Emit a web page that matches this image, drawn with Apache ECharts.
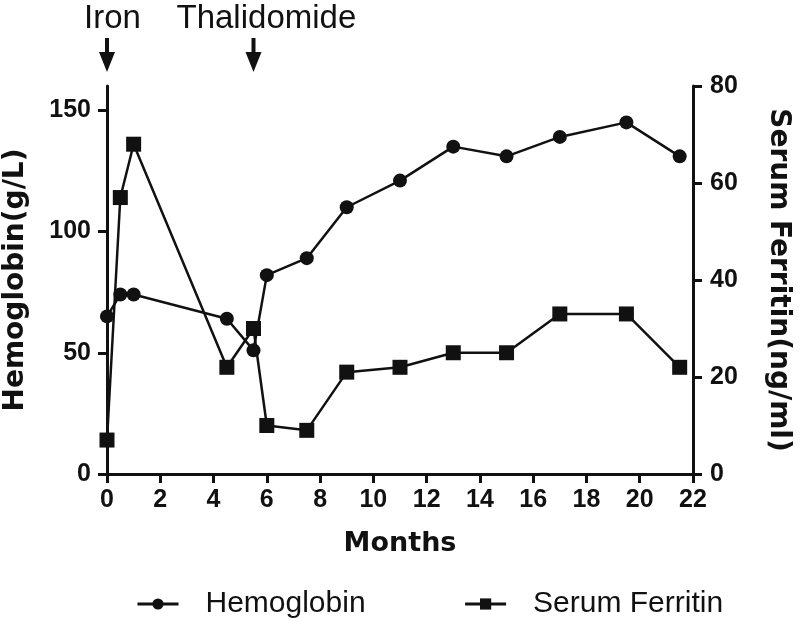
<!DOCTYPE html>
<html>
<head>
<meta charset="utf-8">
<script src="https://cdn.jsdelivr.net/npm/echarts@6/dist/echarts.min.js"></script>
<style>
  html, body { margin: 0; padding: 0; background: #fff; }
  #chart { width: 800px; height: 622px; }
</style>
</head>
<body>
<div id="chart"></div>
<script>
// data
const months = [0, 0.5, 1, 4.5, 5.5, 6, 7.5, 9, 11, 13, 15, 17, 19.5, 21.5];
const hemoglobin = [65, 74, 74, 64, 51, 82, 89, 110, 121, 135, 131, 139, 145, 131];
const ferritin = [7, 57, 68, 22, 30, 10, 9, 21, 22, 25, 25, 33, 33, 22];
const hbTicks = [0, 50, 100, 150];
const events = ["Iron", "Thalidomide"];
const eventMonths = [0, 5.5];

const ink = "#111";
const boldFont = "DejaVu Sans";
const plainFont = "Liberation Sans";

const chart = echarts.init(document.getElementById("chart"));

const axisCommon = {
  axisLine: { show: true, lineStyle: { color: ink, width: 3 } },
  axisTick: { show: true, length: 9, lineStyle: { color: ink, width: 3 } },
  splitLine: { show: false },
  nameLocation: "middle",
  nameTextStyle: { fontFamily: boldFont, fontWeight: "bold", fontSize: 28, color: ink },
};
const tickLabel = { fontFamily: plainFont, fontWeight: "bold", fontSize: 25, color: ink };

chart.setOption({
  animation: false,
  grid: { left: 107, right: 107, top: 86, bottom: 148, outerBoundsMode: "none", containLabel: false },
  legend: {
    left: 131,
    top: 584,
    itemWidth: 41,
    itemHeight: 14,
    itemGap: 98,
    lineStyle: { width: 3 },
    textStyle: { fontFamily: plainFont, fontSize: 30, color: ink, padding: [0, 0, 0, 22] },
    data: ["Hemoglobin", "Serum Ferritin"],
  },
  xAxis: {
    ...axisCommon,
    type: "value",
    min: 0,
    max: 22,
    interval: 2,
    name: "Months",
    nameGap: 56,
    nameTextStyle: { ...axisCommon.nameTextStyle, fontSize: 27 },
    axisLabel: { ...tickLabel, margin: 14 },
  },
  yAxis: [
    {
      ...axisCommon,
      type: "value",
      position: "left",
      min: 0,
      max: 160,
      name: "Hemoglobin(g/L)",
      nameGap: 77,
      axisTick: { ...axisCommon.axisTick, customValues: hbTicks },
      axisLabel: { ...tickLabel, margin: 16, customValues: hbTicks },
    },
    {
      ...axisCommon,
      type: "value",
      position: "right",
      min: 0,
      max: 80,
      interval: 20,
      name: "Serum Ferritin(ng/ml)",
      nameRotate: -90,
      nameGap: 71,
      axisLabel: { ...tickLabel, margin: 17 },
    },
  ],
  series: [
    {
      name: "Hemoglobin",
      type: "line",
      yAxisIndex: 0,
      data: months.map((m, i) => [m, hemoglobin[i]]),
      symbol: "circle",
      symbolSize: 14,
      itemStyle: { color: ink },
      lineStyle: { color: ink, width: 2.5 },
    },
    {
      name: "Serum Ferritin",
      type: "line",
      yAxisIndex: 1,
      data: months.map((m, i) => [m, ferritin[i]]),
      symbol: "rect",
      symbolSize: 15,
      itemStyle: { color: ink },
      lineStyle: { color: ink, width: 2.5 },
    },
  ],
});

// treatment arrows above the plot
const textOffset = [-23, -77];
const graphics = [];
eventMonths.forEach((m, i) => {
  const x = chart.convertToPixel({ xAxisIndex: 0 }, m);
  graphics.push({
    type: "line",
    shape: { x1: x, y1: 38, x2: x, y2: 55 },
    style: { stroke: ink, lineWidth: 4 },
  });
  graphics.push({
    type: "polygon",
    shape: { points: [[x - 8, 52], [x + 8, 52], [x, 72]] },
    style: { fill: ink },
  });
  graphics.push({
    type: "text",
    x: x + textOffset[i],
    y: 2,
    style: { text: events[i], font: "33px " + plainFont, fill: ink },
  });
});
chart.setOption({ graphic: graphics });
</script>
</body>
</html>
